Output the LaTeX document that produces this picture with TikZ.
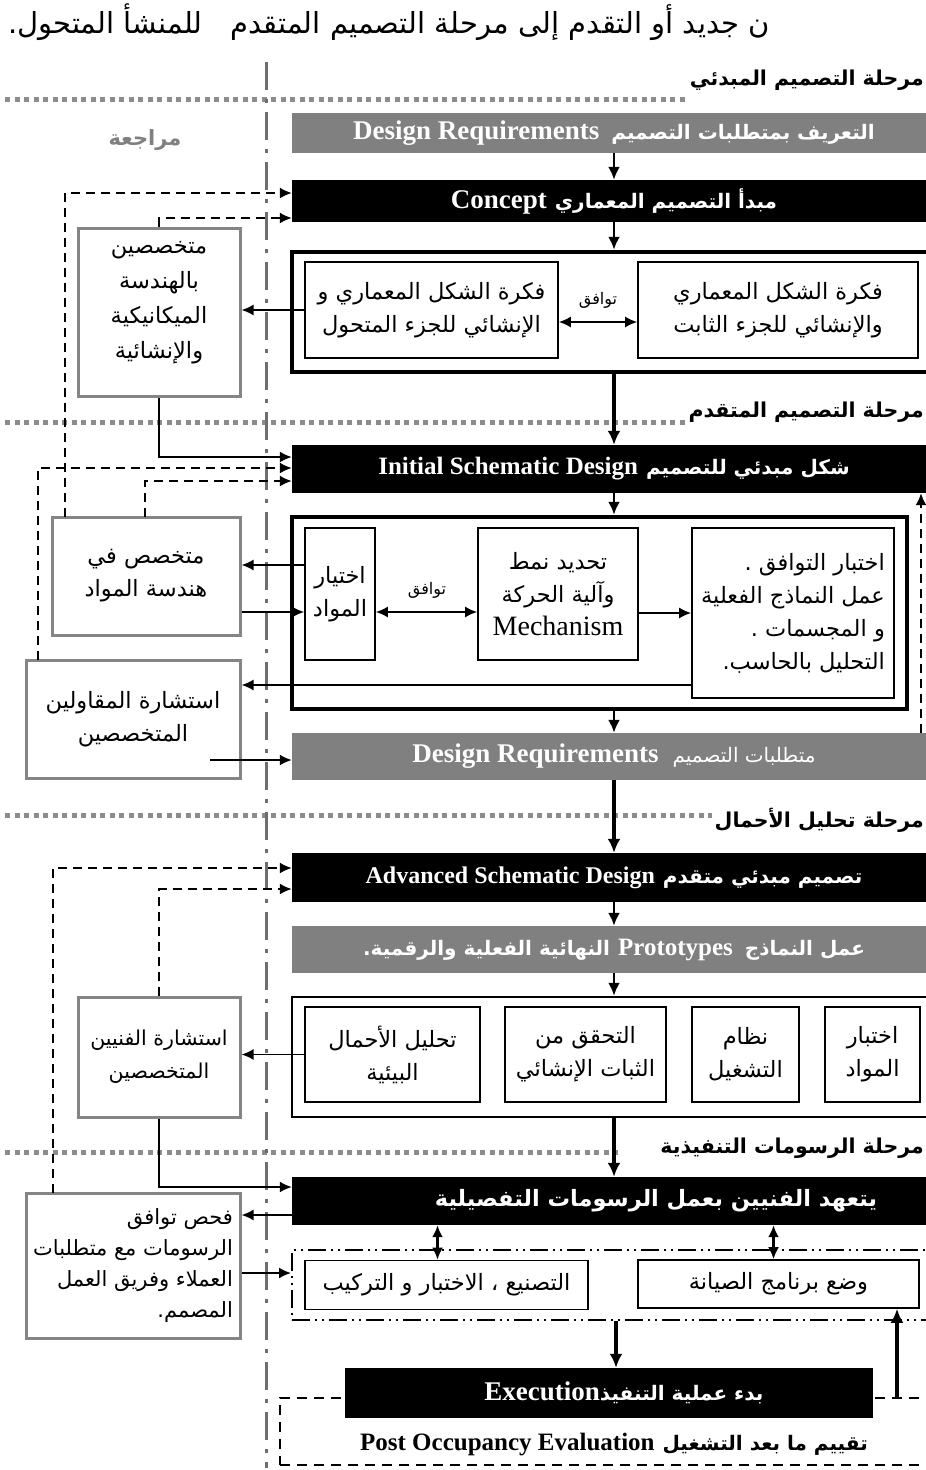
\documentclass[tikz,border=0pt]{standalone}
\usepackage{fontspec}
\setmainfont{Liberation Serif}
\newfontfamily\arabicfont[Script=Arabic]{DejaVu Sans}
\usetikzlibrary{arrows.meta}
\TeXXeTstate=1

\definecolor{boxfill}{HTML}{808080}
\definecolor{sidegray}{HTML}{858585}
\definecolor{sepgray}{HTML}{8C8C8C}
\definecolor{linegray}{HTML}{6E6E6E}

% text helpers (right-to-left runs)
\newcommand{\artxt}[1]{{\arabicfont\beginR #1\endR}}
\newcommand{\arbold}[1]{{\arabicfont\bfseries\beginR #1\endR}}
\newcommand{\arhdr}[1]{{\arabicfont\bfseries\fontsize{20}{24}\selectfont\beginR #1\endR}}
\newcommand{\bodyfont}{\fontsize{22.5}{33}\selectfont}
\newcommand{\hdrfont}{\fontsize{25}{30}\selectfont\bfseries}
\newcommand{\bighdrfont}{\fontsize{27}{30}\selectfont\bfseries}
\newcommand{\phasefont}{\fontsize{20.5}{24}\selectfont}
\newcommand{\agreefont}{\fontsize{16}{18}\selectfont}

\begin{document}
\begin{tikzpicture}[x=1pt,y=-1pt,
    blackbox/.style={fill=black, text=white, minimum width=644pt, inner sep=0pt, font=\hdrfont},
    graybox/.style={fill=boxfill, text=white, minimum width=644pt, inner sep=0pt, font=\hdrfont},
    inbox/.style={draw, line width=1.6pt, inner sep=0pt, align=center, font=\bodyfont},
    sidebox/.style={draw=sidegray, line width=3pt, inner sep=0pt, align=center, font=\bodyfont},
    outerframe/.style={draw, line width=4.5pt, inner sep=0pt},
    flowarr/.style={-{Latex[length=13pt,width=12pt]}, line width=2.5pt},
    bigarr/.style={-{Latex[length=14pt,width=13pt]}, line width=3.5pt},
    sidearr/.style={-{Latex[length=12pt,width=11pt]}, line width=1.8pt},
    twoarr/.style={{Latex[length=12pt,width=11pt]}-{Latex[length=12pt,width=11pt]}, line width=1.8pt},
    backarr/.style={-{Latex[length=12pt,width=11pt]}, line width=1.8pt, dash pattern=on 9pt off 6pt},
    phaseline/.style={draw=sepgray, line width=5pt, dash pattern=on 5pt off 4.5pt},
    phasetxt/.style={anchor=east, font=\phasefont, inner sep=0pt},
    reviewline/.style={draw=linegray, line width=3pt, dash pattern=on 28pt off 9pt on 4pt off 9pt}]

    \fill[white] (0,0) rectangle (926,1470);
    \useasboundingbox (0,0) rectangle (926,1470);

    % === Top text line ===
    \node[anchor=east, font=\fontsize{29}{32}\selectfont, inner sep=0pt] (toptxt) at (770,22) {{\arabicfont\beginR ن جديد أو التقدم إلى مرحلة التصميم المتقدم\hspace{28pt}للمنشأ المتحول.\endR}};

    % === Phase separators ===
    \draw[phaseline] (5,99) -- (688,99);
    \node[phasetxt] (ph1) at (924,80) {\arbold{مرحلة التصميم المبدئي}};
    \draw[phaseline] (5,422) -- (686,422);
    \node[phasetxt] (ph2) at (924,412) {\arbold{مرحلة التصميم المتقدم}};
    \draw[phaseline] (5,815) -- (712,815);
    \node[phasetxt] (ph3) at (924,820) {\arbold{مرحلة تحليل الأحمال}};
    \draw[phaseline] (5,1152) -- (618,1152);
    \node[phasetxt] (ph4) at (924,1148) {\arbold{مرحلة الرسومات التنفيذية}};

    % === Review line ===
    \draw[reviewline] (266,62) -- (266,1468);
    \node[font=\fontsize{21}{24}\selectfont, text=boxfill] (review) at (145,140) {\arbold{مراجعة}};

    % === Concept stage ===
    \node[graybox, font=\bighdrfont, minimum height=40pt] (req1) at (614,133) {\beginR\arhdr{التعريف بمتطلبات التصميم}\hspace{12pt}\beginL Design Requirements\endL\endR};
    \node[blackbox, font=\bighdrfont, minimum height=42pt] (concept) at (614,201) {\beginR\arhdr{مبدأ التصميم المعماري}\hspace{8pt}\beginL Concept\endL\endR};
    \node[outerframe, minimum width=644pt, minimum height=120pt] (frame1) at (614,312) {};
    \node[inbox, minimum width=253pt, minimum height=96pt] (shiftbox) at (431.5,310) {\artxt{فكرة الشكل المعماري و}\\\artxt{الإنشائي للجزء المتحول}};
    \node[inbox, minimum width=280pt, minimum height=96pt] (fixbox) at (778,310) {\artxt{فكرة الشكل المعماري}\\\artxt{والإنشائي للجزء الثابت}};
    \draw[twoarr] ([yshift=-12pt]shiftbox.east) -- ([yshift=-12pt]fixbox.west);
    \node[font=\agreefont] (agree1) at (598,300) {\artxt{توافق}};
    \node[sidebox, minimum width=162pt, minimum height=168pt] (mechsp) at (159,312) {};
    \node[align=center, font=\fontsize{22.5}{35}\selectfont] (mechtxt) at (159,303) {\artxt{متخصصين}\\\artxt{بالهندسة}\\\artxt{الميكانيكية}\\\artxt{والإنشائية}};
    \draw[sidearr] (shiftbox.west) -- (shiftbox.west -| mechsp.east);
    \draw[flowarr] (req1) -- (concept);
    \draw[flowarr] (concept) -- (frame1);

    % === Advanced design stage ===
    \node[blackbox, minimum height=48pt] (initial) at (614,469) {\beginR\arhdr{شكل مبدئي للتصميم}\hspace{8pt}\beginL Initial Schematic Design\endL\endR};
    \draw[bigarr] (frame1.south) -- (initial.north);
    \node[outerframe, minimum width=615pt, minimum height=192pt] (frame2) at (599.5,613) {};
    \node[inbox, minimum width=70pt, minimum height=132pt] (matsel) at (340,594) {\artxt{اختيار}\\\artxt{المواد}};
    \node[inbox, minimum width=160pt, minimum height=132pt] (mechbox) at (558,594) {\artxt{تحديد نمط}\\\artxt{وآلية الحركة}\\{\fontsize{28}{33}\selectfont Mechanism}};
    \node[inbox, minimum width=202pt, minimum height=170pt, align=right] (testbox) at (793,613) {\artxt{اختبار التوافق .}\\\artxt{عمل النماذج الفعلية}\\\artxt{و المجسمات .}\\\artxt{التحليل بالحاسب.}};
    \draw[twoarr] ([yshift=-18pt]matsel.east) -- ([yshift=-18pt]mechbox.west);
    \node[font=\agreefont] (agree2) at (427,590) {\artxt{توافق}};
    \draw[sidearr] ([yshift=-19pt]mechbox.east) -- (testbox.west);
    \node[sidebox, minimum width=188pt, minimum height=118pt] (matsp) at (146,576) {\artxt{متخصص في}\\\artxt{هندسة المواد}};
    \draw[sidearr] ([yshift=29pt]matsel.west) -- ([yshift=29pt]matsel.west -| matsp.east);
    \draw[sidearr] ([yshift=-18pt]matsel.west -| matsp.east) -- ([yshift=-18pt]matsel.west);
    \node[sidebox, minimum width=214pt, minimum height=118pt] (contsp) at (133,719) {\artxt{استشارة المقاولين}\\\artxt{المتخصصين}};
    \draw[sidearr] ([yshift=-72pt]testbox.west) -- ([yshift=-72pt]testbox.west -| contsp.east);
    \node[graybox, font=\bighdrfont, minimum height=47pt] (req2) at (614,756.5) {\beginR{\arabicfont\mdseries\fontsize{20}{24}\selectfont\beginR متطلبات التصميم\endR}\hspace{14pt}\beginL Design Requirements\endL\endR};
    \coordinate (contout) at (210,760);
    \draw[sidearr] (contout) -- (contout -| req2.west);
    \draw[flowarr] (initial.south) -- (initial.south |- frame2.north);
    \draw[flowarr] (initial.south |- frame2.south) -- (req2.north);
    \coordinate (loopfoot) at (921,733);
    \draw[backarr] (loopfoot) -- (loopfoot |- initial.south);
    \draw[sidearr] (mechsp.south) |- ([yshift=12pt]initial.west);

    % === Load analysis stage ===
    \node[blackbox, font=\fontsize{24}{30}\selectfont\bfseries, minimum height=49pt] (advanced) at (614,877.5) {\beginR\arhdr{تصميم مبدئي متقدم}\hspace{8pt}\beginL Advanced Schematic Design\endL\endR};
    \draw[bigarr] (req2.south) -- (advanced.north);
    \node[graybox, minimum height=47pt] (proto) at (614,949.5) {\beginR\arhdr{عمل النماذج}\hspace{12pt}\beginL Prototypes\endL\hspace{8pt}\arhdr{النهائية الفعلية  والرقمية.}\endR};
    \draw[flowarr] (advanced) -- (proto);
    \node[draw, line width=2.5pt, minimum width=644pt, minimum height=120pt] (frame3) at (614,1057) {};
    \draw[flowarr] (proto) -- (frame3);
    \node[inbox, minimum width=175pt, minimum height=95pt] (loadbox) at (392.5,1054.5) {\artxt{تحليل الأحمال}\\\artxt{البيئية}};
    \node[inbox, minimum width=161pt, minimum height=95pt] (stabbox) at (585.5,1054.5) {\artxt{التحقق من}\\\artxt{الثبات الإنشائي}};
    \node[inbox, minimum width=107pt, minimum height=95pt] (opbox) at (745.5,1054.5) {\artxt{نظام}\\\artxt{التشغيل}};
    \node[inbox, minimum width=95pt, minimum height=95pt] (mattest) at (872.5,1054.5) {\artxt{اختبار}\\\artxt{المواد}};
    \node[sidebox, minimum width=162pt, minimum height=120pt, font=\fontsize{20.5}{33}\selectfont] (techsp) at (159,1057) {\artxt{استشارة الفنيين}\\\artxt{المتخصصين}};
    \draw[sidearr] (loadbox.west) -- (loadbox.west -| techsp.east);

    % === Working drawings stage ===
    \node[blackbox, minimum height=48pt] (detail) at (614,1201) {\hspace*{84pt}{\arabicfont\bfseries\fontsize{22.5}{26}\selectfont\beginR يتعهد الفنيين بعمل الرسومات التفصيلية\endR}};
    \draw[bigarr] (frame3.south) -- (detail.north);
    \draw[sidearr] (techsp.south) |- ([yshift=14pt]detail.west);
    \node[sidebox, minimum width=214pt, minimum height=145pt, align=right, font=\fontsize{21}{31}\selectfont] (checksp) at (133,1265.5) {\artxt{فحص توافق}\\\artxt{الرسومات مع متطلبات}\\\artxt{العملاء وفريق العمل}\\\artxt{المصمم.}};
    \draw[sidearr] ([yshift=-14pt]detail.west) -- ([yshift=-14pt]detail.west -| checksp.east);
    \node[draw, line width=2pt, dash pattern=on 18pt off 5pt on 2pt off 5pt on 2pt off 5pt, minimum width=648pt, minimum height=70pt] (exeframe) at (616,1285) {};
    \node[inbox, minimum width=283pt, minimum height=49pt] (makebox) at (446.5,1285) {\artxt{التصنيع ، الاختبار و التركيب}};
    \node[inbox, minimum width=281pt, minimum height=48pt] (maintbox) at (778.5,1284) {\artxt{وضع برنامج الصيانة}};
    \draw[twoarr, line width=2.5pt] ([xshift=-9pt]makebox.north |- detail.south) -- ([xshift=-9pt]makebox.north);
    \draw[twoarr, line width=2.5pt] ([xshift=-5pt]maintbox.north |- detail.south) -- ([xshift=-5pt]maintbox.north);
    \draw[sidearr] ([yshift=12pt]exeframe.west -| checksp.east) -- ([yshift=12pt]exeframe.west);

    % === Execution and evaluation ===
    \node[draw, line width=2pt, dash pattern=on 10pt off 7pt, minimum width=660pt, minimum height=67pt] (poeframe) at (610,1431.5) {};
    \node[blackbox, font=\bighdrfont, minimum width=528pt, minimum height=50pt] (execution) at (609,1393) {\hspace*{30pt}\beginR\arhdr{بدء عملية التنفيذ}\beginL Execution\endL\endR};
    \draw[bigarr] (exeframe.south) -- (exeframe.south |- execution.north);
    \coordinate (upfoot) at (897,1397);
    \draw[bigarr] (upfoot) -- (upfoot |- maintbox.south);
    \node[font=\hdrfont] (poe) at (614,1445) {\beginR\arhdr{تقييم ما بعد التشغيل}\hspace{8pt}\beginL Post Occupancy Evaluation\endL\endR};

    % === Review (dashed) feedback lines ===
    \coordinate (fb1) at (65,517);
    \coordinate (fb2) at (38,660);
    \coordinate (fb3) at (145,517);
    \coordinate (fb4) at (53,1193);
    \draw[backarr] (fb1) |- ([yshift=8pt]concept.west);
    \draw[backarr] (mechsp.north) |- ([yshift=-17pt]concept.west);
    \draw[backarr] (fb2) |- ([yshift=1pt]initial.west);
    \draw[backarr] (fb3) |- ([yshift=-12pt]initial.west);
    \draw[backarr] (fb4) |- ([yshift=9.5pt]advanced.west);
    \draw[backarr] (techsp.north) |- ([yshift=-11.5pt]advanced.west);
\end{tikzpicture}
\end{document}
